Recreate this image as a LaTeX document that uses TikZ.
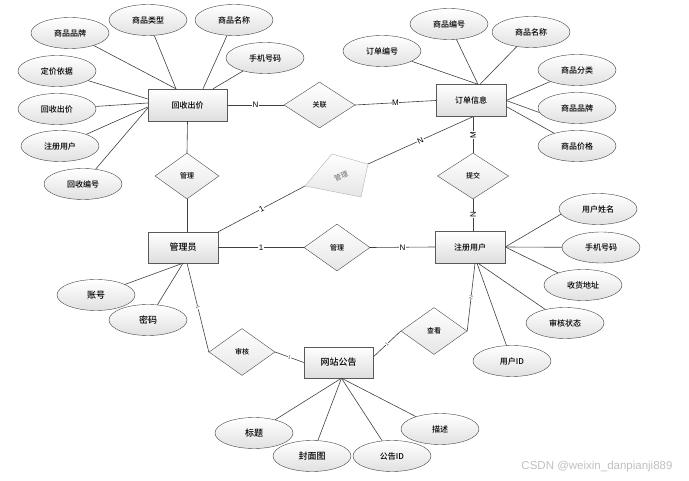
\documentclass[tikz,border=0pt]{standalone}
\usepackage{fontspec}
\setmainfont{Noto Sans CJK SC Medium}
\newfontfamily\lat{Liberation Sans}
\usetikzlibrary{shapes.geometric}
\tikzset{
  ent/.style={draw=black!65, top color=white, bottom color=black!13, minimum width=70pt, minimum height=32pt, inner sep=0pt, font=\fontsize{8}{9}\selectfont},
  att/.style={ellipse, draw=black!75, top color=white, bottom color=black!12, minimum width=78pt, minimum height=31pt, inner sep=0pt, font=\fontsize{8}{9}\selectfont},
  rel/.style={diamond, draw=black!70, top color=white, bottom color=black!10, minimum width=66pt, minimum height=47pt, inner sep=0pt, font=\fontsize{7}{8}\selectfont},
  ln/.style={draw=black!75, line width=0.6pt},
  card/.style={fill=white, inner sep=0.6pt, font=\lat\fontsize{8}{9}\selectfont},
  tiny/.style={fill=white, inner sep=0.3pt, font=\lat\fontsize{5}{6}\selectfont, text=black!70},
}
\begin{document}
\begin{tikzpicture}[x=1pt,y=-1pt]
\useasboundingbox (0,0) rectangle (689,481);
% entities
\node[ent, minimum width=79pt] (hs) at (187.5,105) {回收出价};
\node[ent] (dd) at (471,100.5) {订单信息};
\node[ent, minimum height=31pt, font=\fontsize{9}{10}\selectfont] (gly) at (183,247.5) {管理员};
\node[ent] (zc) at (470,247) {注册用户};
\node[ent, minimum width=69pt, minimum height=31pt, font=\fontsize{9}{10}\selectfont] (gg) at (338.5,362.5) {网站公告};
% relationships
\node[rel, minimum width=71pt, minimum height=46pt] (gl) at (319.5,105) {关联};
\node[rel, minimum width=64pt, minimum height=46pt] (gl1) at (187,176) {管理};
\node[rel, minimum width=71pt, minimum height=46pt] (tj) at (473,176) {提交};
\node[rel] (gl2) at (337,247.5) {管理};
\node[rel] (sh) at (242,352) {审核};
\node[rel] (ck) at (434,331) {查看};
% skewed grey relationship
\coordinate (gl3w) at (305,186);
\coordinate (gl3n) at (332,154);
\coordinate (gl3e) at (368,164);
\coordinate (gl3s) at (361,197);
\draw[draw=black!30, top color=white, bottom color=black!10] (gl3w) -- (gl3n) -- (gl3e) -- (gl3s) -- cycle;
\node[text=black!50, rotate=22, inner sep=0pt, font=\fontsize{7}{8}\selectfont] (gl3) at (341,176) {管理};
% attributes of 回收出价
\node[att] (a1) at (70,33) {商品品牌};
\node[att] (a2) at (148,20) {商品类型};
\node[att] (a3) at (234,20) {商品名称};
\node[att] (a4) at (265,58) {手机号码};
\node[att] (a5) at (57,71) {定价依据};
\node[att] (a6) at (57,109) {回收出价};
\node[att] (a7) at (60,146) {注册用户};
\node[att] (a8) at (83,184) {回收编号};
% attributes of 订单信息
\node[att] (b1) at (449,24) {商品编号};
\node[att] (b2) at (531,32) {商品名称};
\node[att] (b3) at (382,51) {订单编号};
\node[att] (b4) at (577,70) {商品分类};
\node[att] (b5) at (577,108) {商品品牌};
\node[att] (b6) at (577,146) {商品价格};
% attributes of 注册用户
\node[att] (c1) at (598,209) {用户姓名};
\node[att] (c2) at (601,247.5) {手机号码};
\node[att] (c3) at (583,285) {收货地址};
\node[att] (c4) at (565,323) {审核状态};
\node[att] (c5) at (512,361) {用户ID};
% attributes of 管理员
\node[att, font=\fontsize{9}{10}\selectfont] (d1) at (96,295) {账号};
\node[att, font=\fontsize{9}{10}\selectfont] (d2) at (148,320) {密码};
% attributes of 网站公告
\node[att, font=\fontsize{9}{10}\selectfont] (e1) at (254,433) {标题};
\node[att, font=\fontsize{9}{10}\selectfont] (e2) at (312,456) {封面图};
\node[att] (e3) at (392,456) {公告ID};
\node[att] (e4) at (440,429) {描述};
% watermark
\node[font=\lat\fontsize{11.5}{12}\selectfont, text=black!25] (wm) at (597,467) {CSDN @weixin\_danpianji889};
% attribute connectors
\draw[ln] (a1) -- ([xshift=-11.5pt]hs.north);
\draw[ln] (a2) -- ([xshift=-11.5pt]hs.north);
\draw[ln] (a3) -- ([xshift=15.5pt]hs.north);
\draw[ln] (a4) -- ([xshift=25.5pt]hs.north);
\draw[ln] (a5) -- ([yshift=6pt]hs.west);
\draw[ln] (a6) -- ([yshift=2pt]hs.west);
\draw[ln] (a7) -- ([yshift=-2pt]hs.west);
\draw[ln] (a8) -- ([yshift=-3pt]hs.west);
\draw[ln] (b1) -- ([xshift=7pt]dd.north);
\draw[ln] (b2) -- ([xshift=9pt]dd.north);
\draw[ln] (b3) -- ([xshift=7pt]dd.north);
\draw[ln] (b4) -- (dd.east);
\draw[ln] (b5.187) -- (dd.east);
\draw[ln] (b6) -- ([yshift=-6pt]dd.east);
\draw[ln] (c1.188) -- (zc.east);
\draw[ln] (c2) -- (zc.east);
\draw[ln] (c3) -- (zc.east);
\draw[ln] (c4) -- ([xshift=8pt]zc.south);
\draw[ln] (c5) -- ([xshift=7pt]zc.south);
\draw[ln] (d1) -- (gly.south);
\draw[ln] (d2) -- (gly.south);
\draw[ln] (e1) -- ([xshift=3pt]gg.south);
\draw[ln] (e2) -- ([xshift=3pt]gg.south);
\draw[ln] (e3) -- ([xshift=3pt]gg.south);
\draw[ln] (e4) -- ([xshift=3pt]gg.south);
% relationship connectors
\draw[ln] (hs.east) -- node[card]{N} (gl.west);
\draw[ln] (gl.east) -- node[card]{M} (dd.west);
\draw[ln] (hs.south) -- (gl1.north);
\draw[ln] (gl1.south) -- (gl1.south |- gly.north);
\draw[ln] ([xshift=2pt]dd.south) -- node[card, rotate=90]{M} (tj.north);
\draw[ln] (tj.south) -- node[card, rotate=90]{N} (tj.south |- zc.north);
\draw[ln] (gly.east) -- node[card]{1} (gl2.west);
\draw[ln] (gl2.east) -- node[card]{N} (zc.west);
\draw[ln] (gly.north east) -- node[card, sloped]{1} (gl3w);
\draw[ln] (gl3e) -- node[card, sloped]{N} ([xshift=2pt]dd.south);
\draw[ln] ([xshift=4pt]gly.south) -- node[tiny, sloped]{1} (sh.west);
\draw[ln] (sh.east) -- node[tiny, sloped]{1} (gg.west);
\draw[ln] (ck.west) -- node[tiny, sloped]{1} ([yshift=5.5pt]gg.east);
\draw[ln] (ck.east) -- node[tiny, sloped]{N} ([xshift=5pt]zc.south);
\end{tikzpicture}
\end{document}
